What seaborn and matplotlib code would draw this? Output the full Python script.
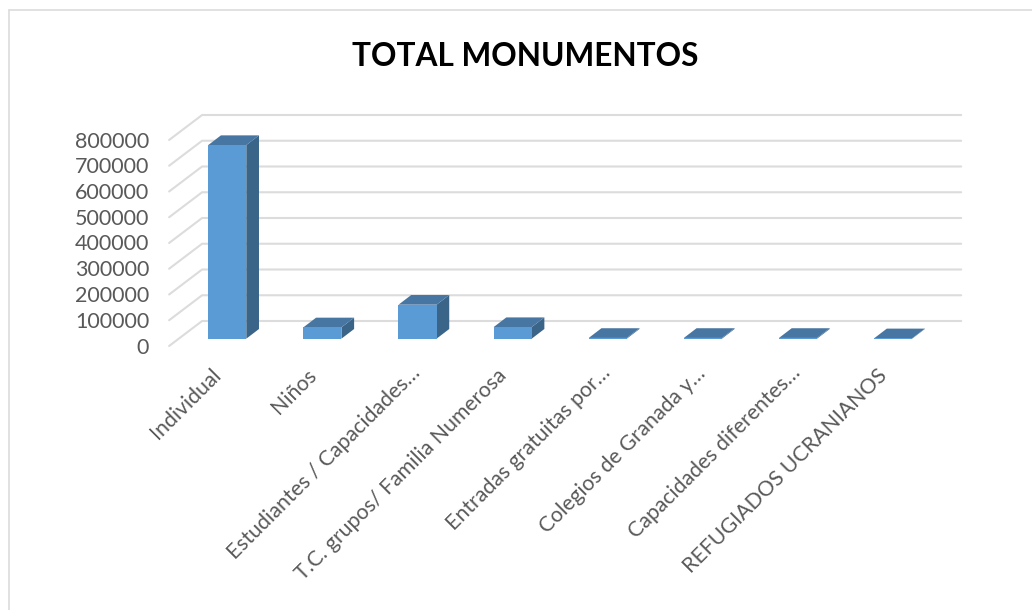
import matplotlib
matplotlib.use("Agg")
import matplotlib.pyplot as plt
import numpy as np
import pandas as pd
import seaborn as sns
from matplotlib.lines import Line2D
from matplotlib.patches import Polygon
from matplotlib.transforms import Affine2D, IdentityTransform

categories = [
    "Individual",
    "Niños",
    "Estudiantes / Capacidades…",
    "T.C. grupos/ Familia Numerosa",
    "Entradas gratuitas por…",
    "Colegios de Granada y…",
    "Capacidades diferentes…",
    "REFUGIADOS UCRANIANOS",
]
values = [752000, 44000, 132000, 45000, 3000, 3000, 3000, 1500]
y_ticks = [0, 100000, 200000, 300000, 400000, 500000, 600000, 700000, 800000]

W, H = 1032, 610
FRONT = "#5B9BD5"
SIDE = "#3A6589"
TOP = "#4876A2"
GRID = "#DCDCDC"
TEXT = "#595959"

# floor depth in pixels: the walls sit in front of and behind the bar plane
FRONT_OFF = np.array([-10.6, -7.3])
BACK_OFF = np.array([22.4, 17.7])
BAR_OFF = np.array([12.7, 9.7])

sns.set_theme(style="white")
plt.rcParams["font.family"] = ["Lato", "DejaVu Sans"]

df = pd.DataFrame({"category": categories, "value": values})

fig = plt.figure(figsize=(W / 100, H / 100), dpi=100)
ax = fig.add_axes([179.7 / W, 1 - 338.7 / H, 761 / W, 206 / H])
ax.patch.set_alpha(0)

sns.barplot(data=df, x="category", y="value", color=FRONT, saturation=1, width=0.4, ax=ax, zorder=3)
ax.set_xlim(-0.5, 7.5)
ax.set_ylim(0, 800000)
ax.set_xlabel("")
ax.set_ylabel("")
sns.despine(ax=ax, left=True, bottom=True)

ax.set_yticks(y_ticks)
ax.set_yticklabels([str(v) for v in y_ticks])
ax.set_xticks(range(len(categories)))
ax.set_xticklabels(categories, rotation=45, ha="right", rotation_mode="anchor")
ax.tick_params(axis="y", length=0, pad=22, labelsize=15.5, labelcolor=TEXT)
ax.tick_params(axis="x", length=0, pad=16, labelsize=15.3, labelcolor=TEXT)
for lab in ax.get_yticklabels():
    lab.set_transform(lab.get_transform() + Affine2D().translate(0, -6.8))
for lab in ax.get_xticklabels():
    # shortened labels end a bit further along the diagonal
    extra = (8, 2) if lab.get_text().endswith("…") else (0, 0)
    lab.set_transform(lab.get_transform() + Affine2D().translate(-16 + extra[0], -4 + extra[1]))


def px(x, y):
    return ax.transData.transform((x, y))


# gridlines: diagonal on the side wall, then along the back wall
for v in y_ticks:
    p = px(-0.5, v)
    end = px(7.48, v)
    pts = np.array([p + FRONT_OFF, p + BACK_OFF, end + BACK_OFF])
    ax.add_line(Line2D(pts[:, 0], pts[:, 1], color=GRID, lw=1.5, transform=IdentityTransform(), clip_on=False, zorder=1))

# side and top faces worked out from each bar seaborn drew
for bar in ax.patches:
    bar.set_edgecolor("none")
    x0, x1 = bar.get_x(), bar.get_x() + bar.get_width()
    top = bar.get_height()
    bl, br, tl, tr = px(x0, 0), px(x1, 0), px(x0, top), px(x1, top)
    side = Polygon([br, br + BAR_OFF, tr + BAR_OFF, tr], facecolor=SIDE, edgecolor="none", transform=IdentityTransform(), clip_on=False, zorder=2)
    lid = Polygon([tl, tr, tr + BAR_OFF, tl + BAR_OFF], facecolor=TOP, edgecolor="none", transform=IdentityTransform(), clip_on=False, zorder=2)
    ax.add_patch(side)
    ax.add_patch(lid)

fig.text(525.5 / W, 1 - 57 / H, "TOTAL MONUMENTOS", ha="center", va="center", fontsize=22.8, fontweight="bold", color="black")

# chart frame, only top and left show in the crop
fig.add_artist(Line2D([8.5 / W, 8.5 / W], [0, 1 - 9.5 / H], color=GRID, lw=1.2))
fig.add_artist(Line2D([8.5 / W, 1], [1 - 9.5 / H, 1 - 9.5 / H], color=GRID, lw=1.2))

fig.savefig("out.png", dpi=100)
